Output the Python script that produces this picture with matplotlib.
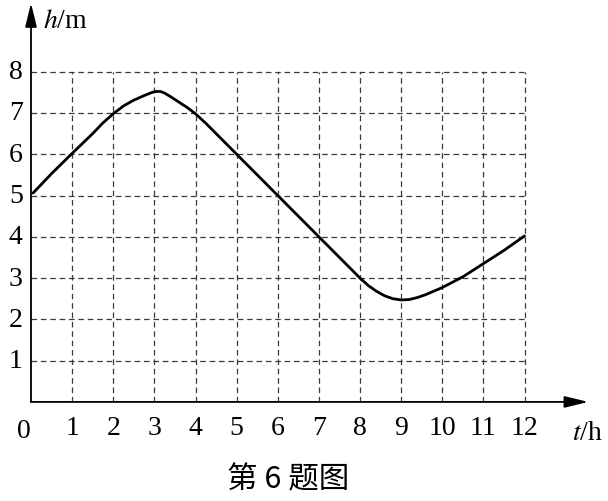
import matplotlib.pyplot as plt

plt.rcParams['mathtext.fontset'] = 'stix'

# données
t = [0.05, 0.5, 1, 1.5, 1.75, 2, 2.25, 2.5, 2.75, 2.95, 3.05, 3.15, 3.25, 3.4, 3.6, 3.8, 4, 4.25, 5, 6, 7, 7.5, 7.8, 8, 8.2, 8.4, 8.6, 8.8, 9, 9.2, 9.4, 9.6, 10, 10.5, 11, 11.5, 12]
h = [5.06, 5.53, 6.02, 6.5, 6.76, 6.98, 7.17, 7.31, 7.42, 7.5, 7.52, 7.52, 7.48, 7.39, 7.26, 7.13, 6.98, 6.75, 6.0, 5.0, 4.0, 3.5, 3.2, 3.0, 2.82, 2.68, 2.57, 2.5, 2.47, 2.48, 2.53, 2.6, 2.77, 3.03, 3.35, 3.67, 4.02]
x_ticks = list(range(1, 13))
y_ticks = list(range(1, 9))

serif = ['Liberation Serif', 'DejaVu Serif']

fig = plt.figure(figsize=(6.08, 5.02), dpi=100)
ax = fig.add_axes([0, 0, 1, 1])
ax.set_xlim(-0.754, 14.03)
ax.set_ylim(-2.40, 9.76)
ax.axis('off')

# grille en pointillés
ax.hlines(y_ticks, 0, 12, colors='#3a3a3a', linestyles=(0, (4.5, 3)), linewidth=0.9)
ax.vlines(x_ticks, 0, 8, colors='#3a3a3a', linestyles=(0, (4.5, 3)), linewidth=0.9)

# axes avec flèches
fleche = dict(arrowstyle='-|>,head_length=0.9,head_width=0.22', color='black', lw=1.3,
              mutation_scale=16, shrinkA=0, shrinkB=0)
ax.annotate('', xy=(13.55, 0), xytext=(0, 0), arrowprops=fleche)
ax.annotate('', xy=(0, 9.66), xytext=(0, 0), arrowprops=fleche)

# courbe
ax.plot(t, h, color='black', linewidth=2.0, solid_capstyle='round', solid_joinstyle='round')

# étiquettes
for v in x_ticks:
    ax.text(v, -0.62, str(v), ha='center', va='center', fontsize=20, family=serif)
for v in y_ticks:
    ax.text(-0.37, v, str(v), ha='center', va='center', fontsize=20, family=serif)
ax.text(-0.17, -0.70, '0', ha='center', va='center', fontsize=20, family=serif)

ax.text(0.28, 9.24, '$\\it{h}$/m', ha='left', va='center', fontsize=20, family=serif)
ax.text(13.15, -0.75, '$\\it{t}$/h', ha='left', va='center', fontsize=20, family=serif)

ax.text(6.25, -1.86, '第 6 题图', ha='center', va='center', fontsize=22,
        family=['Noto Sans CJK SC', 'DejaVu Sans'])

fig.savefig('out.png', dpi=100)
